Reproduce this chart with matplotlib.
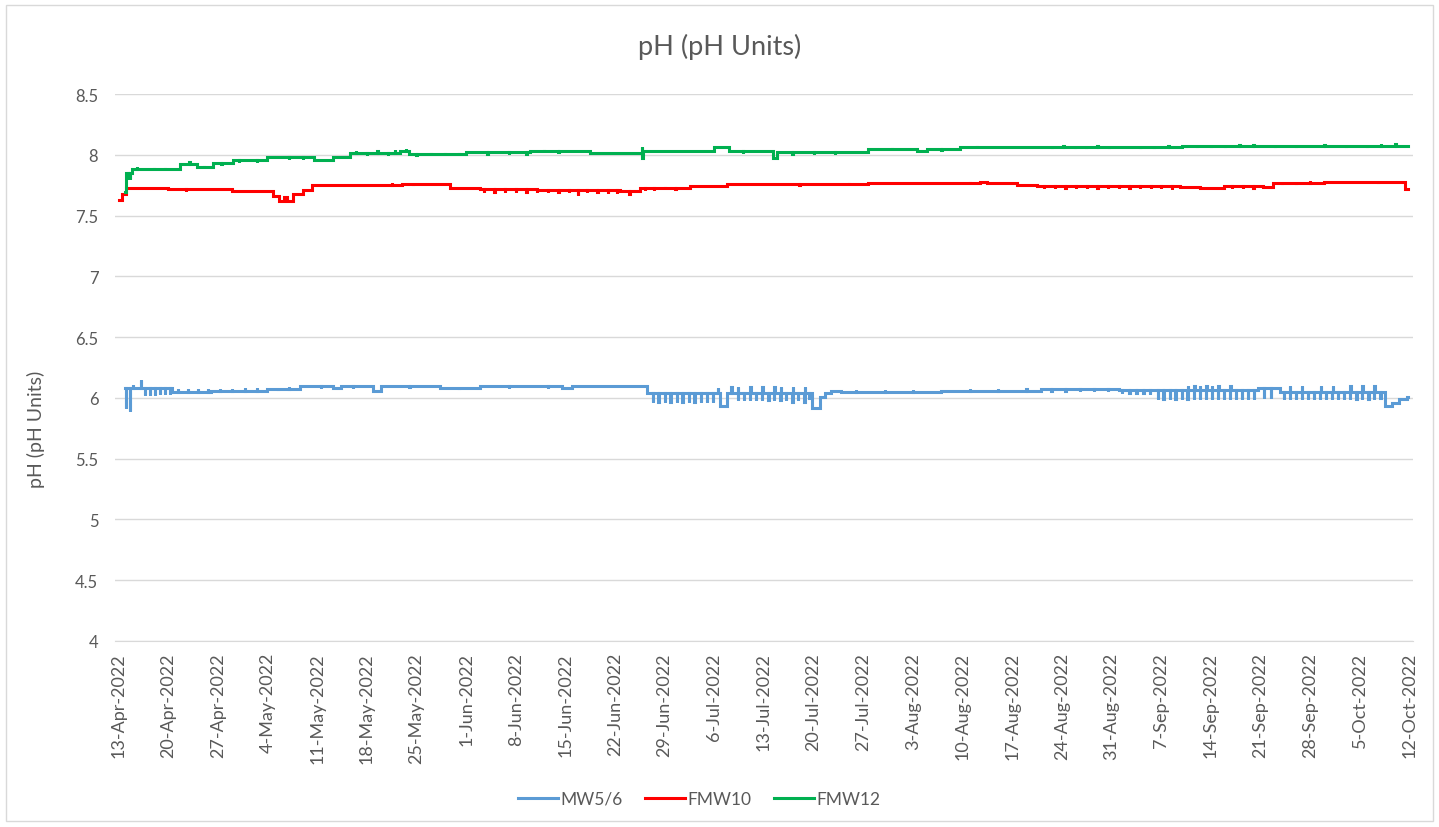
import numpy as np
import matplotlib
matplotlib.use("Agg")
import matplotlib.pyplot as plt
import matplotlib.dates as mdates
from matplotlib.patches import Rectangle
from datetime import datetime, timedelta

plt.rcParams['font.family'] = ['Lato', 'DejaVu Sans']

# ---------------- data (days after 13-Apr-2022) ----------------
start_date = datetime(2022, 4, 13)
end_day = 181.8

series_names = ["MW5/6", "FMW10", "FMW12"]
series_colors = ["#5B9BD5", "#FF0000", "#00B050"]

# MW5/6 step levels
mw56_days = [0.9, 7.5, 13.0, 21.0, 25.6, 30.3, 31.3, 35.9, 37.0, 45.3, 51.0, 62.5, 64.0,
             74.5, 84.8, 85.8, 97.8, 98.9, 99.6, 100.4, 101.8, 116.0, 126.0, 130.0, 141.0,
             160.6, 163.8, 178.6, 179.6, 180.5, 181.6]
mw56_vals = [6.085, 6.05, 6.055, 6.07, 6.10, 6.085, 6.10, 6.06, 6.10, 6.08, 6.10, 6.085, 6.10,
             6.04, 5.93, 6.04, 5.92, 6.01, 6.04, 6.06, 6.05, 6.055, 6.06, 6.075, 6.065,
             6.085, 6.045, 5.93, 5.955, 5.99, 6.01]
# MW5/6 short spikes
mw56_spike_days = [1.0, 1.6, 2.0, 3.1, 3.7, 4.4, 5.1, 5.8, 6.5, 7.2,
                   8.4, 9.8, 11.2, 12.6, 14.3, 16.0, 17.8, 19.5, 22.5, 24.0,
                   28.5, 33.0, 41.0, 48.0, 55.0, 60.5,
                   75.3, 76.1, 77.0, 77.8, 78.7, 79.5, 80.4, 81.2, 82.1, 82.9, 83.8, 84.5,
                   86.4, 87.3, 87.36, 88.2, 89.0, 89.06, 89.9, 90.7, 90.76, 91.6, 92.4, 92.46,
                   93.3, 93.36, 94.1, 95.0, 95.06, 95.8, 96.7, 96.76, 97.4,
                   104.0, 108.0, 112.0, 120.0, 124.0, 128.0, 131.5, 133.5, 135.5, 137.5, 139.5,
                   141.5, 142.5, 143.5, 144.5, 145.4, 146.5, 147.3, 148.2, 149.0, 149.9,
                   150.7, 150.76, 151.6, 151.66, 152.4, 152.46, 153.3, 153.36, 154.1, 154.16,
                   155.0, 155.06, 155.8, 156.7, 156.76, 157.5, 158.4, 159.2, 160.1,
                   161.5, 162.5,
                   164.3, 165.1, 165.16, 166.0, 166.8, 166.86, 167.7, 168.5, 169.4, 169.46,
                   170.2, 171.1, 171.16, 171.9, 172.8, 173.6, 173.66, 174.5, 175.3, 175.36,
                   176.2, 177.0, 177.06, 177.9]
mw56_spike_vals = [5.92, 5.89, 6.11, 6.15, 6.02, 6.02, 6.02, 6.03, 6.03, 6.03,
                   6.07, 6.07, 6.07, 6.07, 6.075, 6.075, 6.08, 6.08, 6.085, 6.09,
                   6.085, 6.085, 6.09, 6.09, 6.085, 6.085,
                   5.97, 5.97, 5.97, 5.97, 5.97, 5.97, 5.97, 5.97, 5.97, 5.97, 5.97, 6.08,
                   6.09, 5.98, 6.09, 5.98, 5.98, 6.09, 5.98, 5.98, 6.09, 5.98, 5.98, 6.09,
                   5.98, 6.09, 5.98, 5.97, 6.09, 5.98, 5.97, 6.09, 6.00,
                   6.065, 6.065, 6.065, 6.07, 6.07, 6.075, 6.06, 6.06, 6.06, 6.06, 6.06,
                   6.04, 6.04, 6.04, 6.04, 6.03, 5.99, 5.99, 5.99, 5.99, 5.99,
                   5.99, 6.10, 5.99, 6.10, 5.99, 6.10, 5.99, 6.10, 5.99, 6.10,
                   5.99, 6.10, 5.99, 5.99, 6.10, 5.99, 5.99, 5.99, 5.99,
                   6.00, 6.00,
                   5.99, 5.99, 6.10, 5.99, 5.99, 6.10, 5.99, 5.99, 5.99, 6.10,
                   5.99, 5.99, 6.10, 5.99, 5.99, 5.99, 6.10, 5.99, 5.99, 6.10,
                   5.99, 5.99, 6.10, 6.00]

# FMW10 step levels
fmw10_days = [0.0, 0.5, 1.06, 7.0, 16.0, 21.8, 22.6, 23.3, 23.8, 24.6, 26.0, 27.3, 36.0, 40.0,
              46.8, 51.0, 59.0, 70.7, 73.5, 80.6, 85.8, 105.6, 121.5, 122.5, 126.7, 129.5,
              149.7, 152.5, 155.8, 161.4, 162.8, 170.0, 181.4]
fmw10_vals = [7.63, 7.68, 7.73, 7.715, 7.705, 7.66, 7.62, 7.65, 7.62, 7.68, 7.71, 7.75, 7.755, 7.76,
              7.73, 7.715, 7.71, 7.70, 7.73, 7.74, 7.76, 7.765, 7.776, 7.77, 7.755, 7.743,
              7.735, 7.727, 7.74, 7.735, 7.77, 7.78, 7.72]
fmw10_spike_days = [9.5, 38.5, 41.5, 51.5, 53.0, 54.5, 56.0, 57.5, 59.0, 60.5, 62.0, 63.5, 64.8,
                    66.0, 67.5, 69.0, 70.3, 72.0, 74.2, 75.5, 77.0, 78.5, 96.0, 103.0, 120.0,
                    130.5, 132.0, 133.5, 135.0, 136.5, 138.0, 139.5, 141.0, 142.5, 144.0,
                    145.5, 147.0, 148.5, 157.0, 158.5, 160.0, 164.0, 166.0, 168.0, 177.5]
fmw10_spike_vals = [7.70, 7.765, 7.765, 7.695, 7.695, 7.695, 7.69, 7.695, 7.69, 7.69, 7.69, 7.69, 7.67,
                    7.69, 7.69, 7.685, 7.685, 7.68, 7.71, 7.71, 7.715, 7.72, 7.75, 7.75, 7.76,
                    7.725, 7.725, 7.725, 7.725, 7.725, 7.725, 7.725, 7.725, 7.725, 7.725,
                    7.725, 7.725, 7.72, 7.725, 7.725, 7.725, 7.78, 7.78, 7.785, 7.785]

# FMW12 step levels
fmw12_days = [0.9, 1.1, 1.9, 8.7, 11.0, 13.3, 16.2, 20.9, 27.5, 30.3, 32.6, 39.7, 41.0, 49.0,
              58.0, 66.5, 73.8, 84.0, 86.0, 92.3, 92.9, 105.7, 112.6, 114.0, 118.7, 150.0]
fmw12_vals = [7.69, 7.85, 7.886, 7.925, 7.90, 7.935, 7.955, 7.98, 7.96, 7.985, 8.015, 8.035, 8.01, 8.02,
              8.03, 8.015, 8.03, 8.06, 8.03, 7.975, 8.02, 8.05, 8.035, 8.05, 8.065, 8.07]
fmw12_spike_days = [1.3, 1.6, 2.6, 5.0, 6.5, 8.0, 10.0, 12.0, 14.5, 17.0, 19.5, 24.0, 26.0,
                    33.5, 35.0, 36.5, 38.0, 39.0, 40.5, 42.0, 44.0, 46.0, 48.0, 52.0, 55.0,
                    57.5, 60.0, 62.0, 73.8, 73.86, 88.0, 95.0, 98.0, 101.0, 109.0, 116.0,
                    121.0, 131.6, 133.2, 134.8, 136.4, 138.0, 139.6, 144.0, 146.0, 148.0,
                    150.5, 152.0, 154.0, 156.0, 158.0, 160.0, 163.0, 166.0, 170.0, 173.0,
                    176.0, 178.0, 180.0]
fmw12_spike_vals = [7.80, 7.80, 7.90, 7.875, 7.875, 7.88, 7.94, 7.89, 7.925, 7.94, 7.94, 7.965, 7.965,
                    8.03, 8.00, 8.035, 8.00, 8.04, 8.05, 7.995, 7.995, 7.995, 7.995, 8.005, 8.005,
                    8.01, 8.02, 8.02, 8.065, 7.975, 8.015, 8.01, 8.01, 8.01, 8.04, 8.04,
                    8.055, 8.075, 8.075, 8.075, 8.075, 8.075, 8.075, 8.075, 8.075, 8.075,
                    8.08, 8.08, 8.08, 8.08, 8.08, 8.08, 8.08, 8.08, 8.08, 8.08,
                    8.08, 8.085, 8.085]

# x tick labels every 7 days
tick_days = list(range(0, 183, 7))

SPIKE_W = 0.04


def build(days, vals, sdays, svals, end):
    days = np.asarray(days, float)
    vals = np.asarray(vals, float)
    ev = [(d, v) for d, v in zip(days, vals)]
    for sd, sv in zip(sdays, svals):
        idx = np.searchsorted(days, sd + SPIKE_W, side='right') - 1
        idx = max(idx, 0)
        ev.append((sd, sv))
        ev.append((sd + SPIKE_W, vals[idx]))
    ev.sort(key=lambda e: e[0])
    ev.append((end, ev[-1][1]))
    t = np.array([e[0] for e in ev])
    v = np.array([e[1] for e in ev])
    return t, v


base = mdates.date2num(start_date)

fig = plt.figure(figsize=(14.39, 8.28), dpi=100)
ax = fig.add_axes([115 / 1439, 1 - 642 / 828, (1413 - 115) / 1439, (642 - 95) / 828])

grey = "#595959"
for (dd, vv, sd, sv), name, col in zip(
        [(mw56_days, mw56_vals, mw56_spike_days, mw56_spike_vals),
         (fmw10_days, fmw10_vals, fmw10_spike_days, fmw10_spike_vals),
         (fmw12_days, fmw12_vals, fmw12_spike_days, fmw12_spike_vals)],
        series_names, series_colors):
    t, v = build(dd, vv, sd, sv, end_day)
    ax.plot(base + t, v, drawstyle='steps-post', color=col, lw=2.2, label=name,
            solid_joinstyle='miter')

ax.set_ylim(4, 8.5)
ax.set_yticks(np.arange(4, 8.51, 0.5))
ax.set_yticklabels(["4", "4.5", "5", "5.5", "6", "6.5", "7", "7.5", "8", "8.5"])
ax.set_xlim(base - 0.5, base + 182.5)
ticks = [base + d for d in tick_days]
ax.set_xticks(ticks)
labels = []
for d in tick_days:
    dt = start_date + timedelta(days=d)
    labels.append(f"{dt.day}-{dt.strftime('%b')}-{dt.year}")
ax.set_xticklabels(labels, rotation=90)

ax.grid(axis='y', color="#D9D9D9", lw=1.0)
ax.set_axisbelow(True)
for s in ['top', 'right', 'left']:
    ax.spines[s].set_visible(False)
ax.spines['bottom'].set_color("#D9D9D9")
ax.tick_params(axis='both', length=0, colors=grey)
ax.tick_params(axis='x', pad=8, labelsize=13)
ax.tick_params(axis='y', pad=12, labelsize=12)

ax.set_ylabel("pH (pH Units)", color=grey, fontsize=14)
ax.yaxis.set_label_coords(-0.054, 0.388)
fig.text(0.5, 1 - 47 / 828, "pH (pH Units)", ha='center', va='center', color=grey, fontsize=19.5)

leg = fig.legend(loc='center', bbox_to_anchor=(0.486, 1 - 800 / 828), ncol=3, frameon=False,
                 fontsize=12.5, handlelength=2.3, columnspacing=1.3, handletextpad=0.15)
for txt in leg.get_texts():
    txt.set_color(grey)

fig.patches.append(Rectangle((6 / 1439, 6 / 828), 1 - 12 / 1439, 1 - 12 / 828,
                             transform=fig.transFigure, fill=False, edgecolor="#D9D9D9", lw=1))

fig.savefig("out.png", dpi=100, facecolor="white")
